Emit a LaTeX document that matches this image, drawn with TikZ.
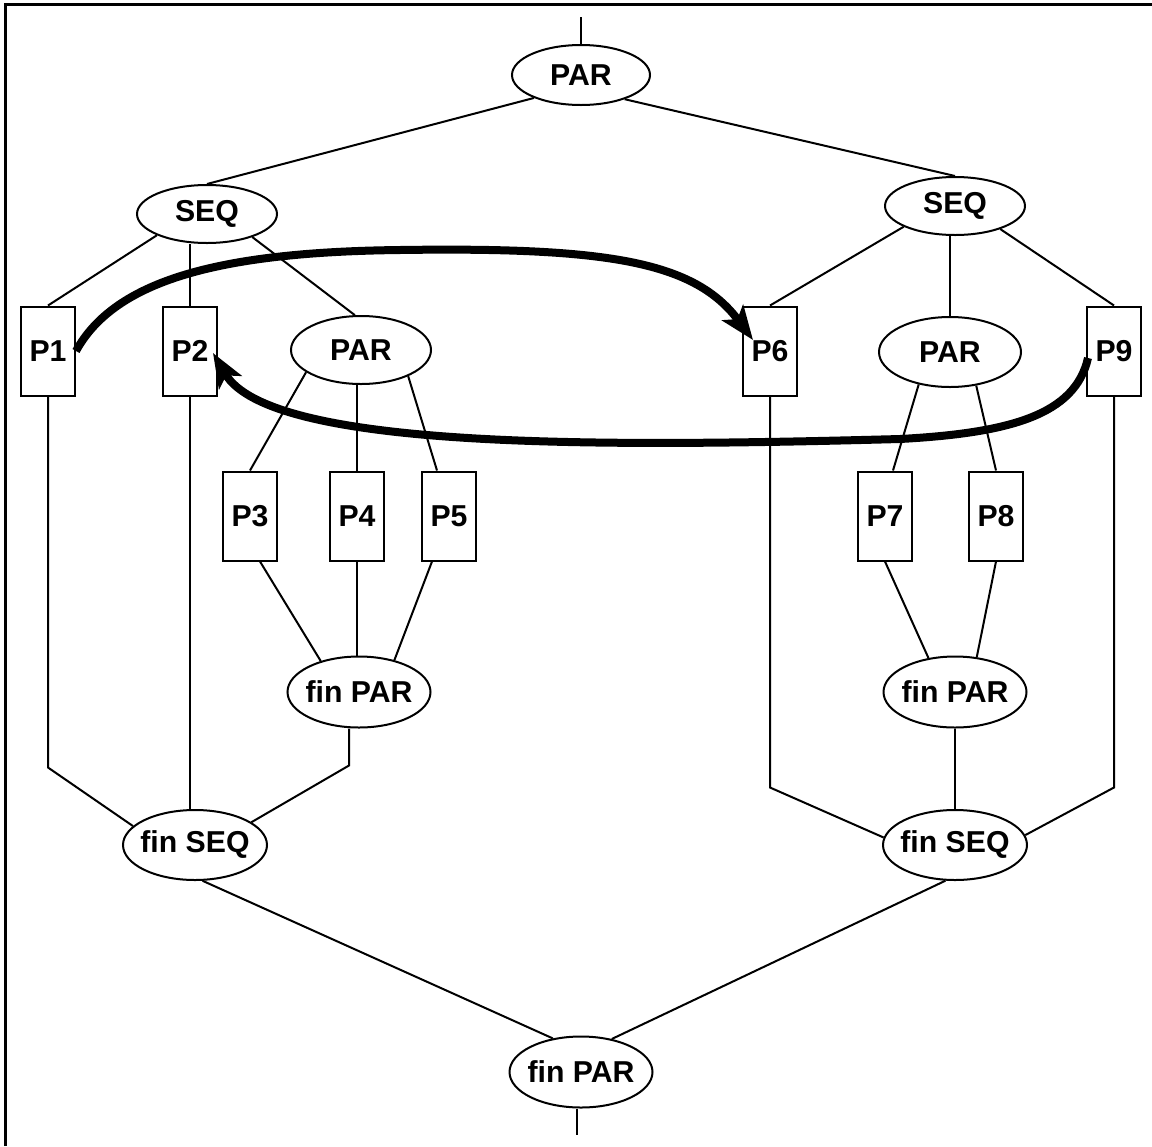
\documentclass[tikz,border=0pt]{standalone}
\usepackage{fontspec}
\setmainfont{Liberation Sans}
\usepackage{tikz}
\usetikzlibrary{shapes.geometric, arrows.meta}
\newcommand{\oplbl}[1]{\makebox[0pt]{#1}}

\begin{document}
\begin{tikzpicture}[x=0.25mm, y=-0.25mm,
    op/.style={ellipse, draw, line width=0.5mm, inner sep=0pt, minimum width=35mm, minimum height=14.5mm, font=\fontsize{21.5}{24}\selectfont\bfseries},
    finop/.style={op, minimum width=35.75mm, minimum height=17.75mm},
    proc/.style={rectangle, draw, line width=0.5mm, inner sep=0pt, minimum width=13.5mm, minimum height=22.25mm, font=\fontsize{21.5}{24}\selectfont\bfseries},
    link/.style={line width=0.5mm},
    jump/.style={line width=2mm, -{Stealth[length=8.5mm, width=6.5mm, inset=2mm]}}]
    \useasboundingbox (0,0) rectangle (1152,1146);
    % Rahmen (nur oben und links sichtbar)
    \draw[line width=0.75mm] (5,1146) -- (5,4) -- (1152,4);

    % Knoten: px-Koordinaten, y nach unten
    \node[op, minimum width=34.5mm, minimum height=15mm] (parTop) at (581,75) {\oplbl{PAR}};
    \node[op] (seqL) at (207,214) {\oplbl{SEQ}};
    \node[op] (seqR) at (955,206) {\oplbl{SEQ}};
    \node[proc] (p1) at (48,351) {P1};
    \node[proc] (p2) at (190,351) {P2};
    \node[op, minimum height=17mm] (parL) at (361,350) {\oplbl{PAR}};
    \node[proc] (p6) at (770,351) {P6};
    \node[op, minimum width=35.5mm, minimum height=17.5mm] (parR) at (950,352) {\oplbl{PAR}};
    \node[proc] (p9) at (1114,351) {P9};
    \node[proc] (p3) at (250,516) {P3};
    \node[proc] (p4) at (357,516) {P4};
    \node[proc] (p5) at (449,516) {P5};
    \node[proc] (p7) at (885,516) {P7};
    \node[proc] (p8) at (996,516) {P8};
    \node[finop] (finParL) at (359,692) {\oplbl{fin PAR}};
    \node[finop] (finParR) at (955,692) {\oplbl{fin PAR}};
    \node[finop, minimum width=36mm, minimum height=17.5mm] (finSeqL) at (195,845) {\oplbl{fin SEQ}};
    \node[finop, minimum width=36mm, minimum height=17.5mm] (finSeqR) at (955,845) {\oplbl{fin SEQ}};
    \node[finop] (finParB) at (581,1072) {\oplbl{fin PAR}};

    % Verbindungen
    \draw[link] (parTop.north) -- ++(0,-27);
    \draw[link] (parTop.206) -- (seqL.north);
    \draw[link] (parTop.-29) -- (seqR.north);
    \draw[link] (seqL.203) -- (p1.north);
    \draw[link] (p2.north) -- (p2.north |- seqL.south);
    \draw[link] (seqL.-27) -- (parL.100);
    \draw[link] (seqR.202) -- (p6.north);
    \draw[link] (parR.north) -- (parR.north |- seqR.south);
    \draw[link] (seqR.-27) -- (p9.north);
    \draw[link] (parL.202) -- (p3.north);
    \draw[link] (p4.north) -- (p4.north |- parL.south);
    \draw[link] (parL.-29) -- ([xshift=-3mm]p5.north);
    \draw[link] (parR.226) -- ([xshift=2mm]p7.north);
    \draw[link] (parR.-52) -- (p8.north);
    \draw[link] ([xshift=2.5mm]p3.south) -- (finParL.141);
    \draw[link] (p4.south) -- (p4.south |- finParL.north);
    \draw[link] ([xshift=-4.25mm]p5.south) -- (finParL.42);
    \draw[link] (p7.south) -- (finParR.128);
    \draw[link] (p8.south) -- (finParR.58);
    \draw[link] ([xshift=-2.5mm]finParL.south) -- ++(0,37) -- (finSeqL.22);
    \draw[link] (p1.south) -- ++(0,371) -- (finSeqL.163);
    \draw[link] (p2.south) -- (p2.south |- finSeqL.north);
    \draw[link] (finParR.south) -- (finSeqR.north);
    \draw[link] (p6.south) -- ++(0,391) -- (finSeqR.174);
    \draw[link] (p9.south) -- ++(0,391) -- (finSeqR.8);
    \draw[link] (finSeqL.-78) -- (finParB.130);
    \draw[link] (finSeqR.-105) -- (finParB.47);
    \draw[link] ([xshift=-1mm]finParB.south) -- ++(0,26);

    % dicke Pfeile
    \draw[jump] (p1.east) .. controls (115,280) and (220,252) .. (400,250)
      .. controls (610,247) and (695,262) .. ([shift={(-17,-11)}]p6.center);
    \draw[jump] ([shift={(2,7)}]p9.west) .. controls (1075,415) and (1010,433) .. (900,439)
      .. controls (600,447) and (270,450) .. ([shift={(-5,2)}]p2.east);
\end{tikzpicture}
\end{document}
